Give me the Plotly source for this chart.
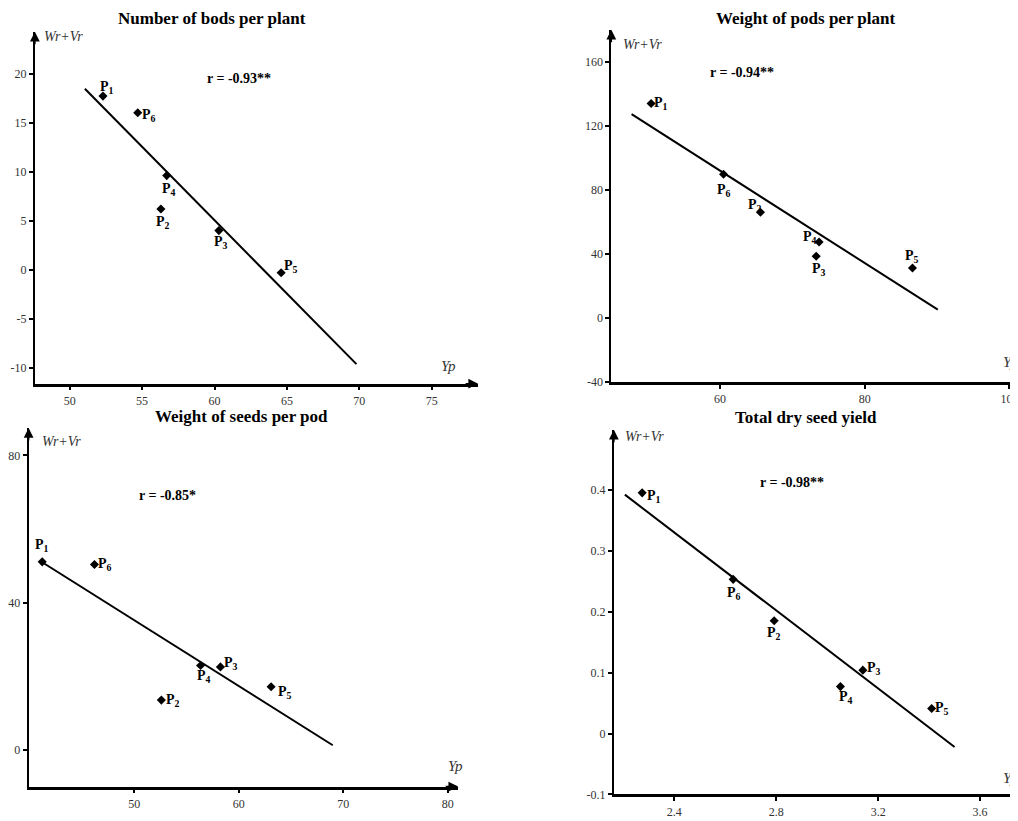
import plotly.graph_objects as go

# The page body has an 8px default margin; the figure is sized and positioned to account for it.
OFF = 8
W0, H0 = 1018, 821
W, H = W0 - OFF, H0 - OFF
labels = ["P1", "P2", "P3", "P4", "P5", "P6"]

# ---- data ----
p1_title = "Number of bods per plant"
p1_r = "r = -0.93**"
p1_x = [52.3, 56.3, 60.3, 56.7, 64.6, 54.7]
p1_y = [17.7, 6.2, 4.0, 9.6, -0.3, 16.0]
p1_line_x = [51.05, 69.8]
p1_line_y = [18.45, -9.6]

p2_title = "Weight of pods per plant"
p2_r = "r = -0.94**"
p2_x = [50.5, 65.6, 73.3, 73.7, 86.6, 60.5]
p2_y = [134.2, 66.1, 38.6, 47.5, 31.2, 89.9]
p2_line_x = [47.8, 90.1]
p2_line_y = [127.5, 5.1]

p3_title = "Weight of seeds per pod"
p3_r = "r = -0.85*"
p3_x = [41.2, 52.6, 58.25, 56.35, 63.1, 46.2]
p3_y = [51.1, 13.6, 22.6, 23.0, 17.2, 50.4]
p3_line_x = [41.2, 69.0]
p3_line_y = [51.0, 1.35]

p4_title = "Total dry seed yield"
p4_r = "r = -0.98**"
p4_x = [2.274, 2.792, 3.14, 3.052, 3.41, 2.631]
p4_y = [0.395, 0.185, 0.104, 0.077, 0.041, 0.253]
p4_line_x = [2.206, 3.5]
p4_line_y = [0.392, -0.022]

p1_xticks = [50, 55, 60, 65, 70, 75]
p1_yticks = [-10, -5, 0, 5, 10, 15, 20]
p2_xticks = [60, 80, 100]
p2_yticks = [-40, 0, 40, 80, 120, 160]
p3_xticks = [50, 60, 70, 80]
p3_yticks = [0, 40, 80]
p4_xticks = [2.4, 2.8, 3.2, 3.6]
p4_yticks = [-0.1, 0, 0.1, 0.2, 0.3, 0.4]

# ---- layout geometry (window pixels) ----
panels = [
    dict(title=p1_title, r=p1_r, x=p1_x, y=p1_y, lx=p1_line_x, ly=p1_line_y,
         xt=p1_xticks, yt=p1_yticks, px=(33, 478), py=(32, 387),
         xr=[47.6, 78.2], yr=[-11.6, 24.25], xarrow=True,
         tpos=(211, 19), rpos=(238, 79), wpos=(62, 37), ypos=(448, 369),
         offs=[(4, 9), (2, -14), (2, -12), (2, -14), (10, 6), (11, -3)]),
    dict(title=p2_title, r=p2_r, x=p2_x, y=p2_y, lx=p2_line_x, ly=p2_line_y,
         xt=p2_xticks, yt=p2_yticks, px=(611.7, 1018), py=(30, 385),
         xr=[45.0, 100.9], yr=[-40, 180.3], xarrow=False,
         tpos=(807, 19), rpos=(743, 73), wpos=(643, 45), ypos=(1012, 365),
         offs=[(10, 0), (-5, 7), (3, -13), (-9, 4), (0, 12), (0, -16)]),
    dict(title=p3_title, r=p3_r, x=p3_x, y=p3_y, lx=p3_line_x, ly=p3_line_y,
         xt=p3_xticks, yt=p3_yticks, px=(26.7, 458), py=(431.7, 793.3),
         xr=[39.9, 81.0], yr=[-9.85, 87.4], xarrow=True,
         tpos=(240, 420), rpos=(166, 500), wpos=(60, 445), ypos=(455, 773),
         offs=[(0, 16), (12, 0), (11, 3), (3, -11), (14, -6), (11, 0)]),
    dict(title=p4_title, r=p4_r, x=p4_x, y=p4_y, lx=p4_line_x, ly=p4_line_y,
         xt=p4_xticks, yt=p4_yticks, px=(614.3, 1018), py=(433.3, 801.3),
         xr=[2.163, 3.741], yr=[-0.1, 0.4987], xarrow=False,
         tpos=(807, 421), rpos=(793, 487), wpos=(645, 440), ypos=(1012, 785),
         offs=[(12, -4), (0, -13), (11, 2), (6, -11), (10, 0), (1, -14)]),
]

SERIF = "Liberation Serif"


def fx(px):
    return (px - OFF) / W


def fy(py):
    return (H0 - py) / H


def fmt(v):
    return "%g" % v


def paper_text(pos, text, size, color):
    return dict(x=fx(pos[0]), y=fy(pos[1]), xref="paper", yref="paper",
                xanchor="center", yanchor="middle", text=text, showarrow=False,
                font=dict(family=SERIF, size=size, color=color))


fig = go.Figure()
annotations = []
layout = {}
for i, p in enumerate(panels):
    n = "" if i == 0 else str(i + 1)
    xa, ya = "x" + n, "y" + n
    fig.add_trace(go.Scatter(x=p["lx"], y=p["ly"], mode="lines",
                             line=dict(color="black", width=2),
                             xaxis=xa, yaxis=ya, showlegend=False, hoverinfo="skip"))
    fig.add_trace(go.Scatter(x=p["x"], y=p["y"], mode="markers",
                             marker=dict(symbol="diamond", size=7, color="black"),
                             xaxis=xa, yaxis=ya, showlegend=False))
    xd = [max(fx(p["px"][0]), 0), min(fx(p["px"][1]), 1.0)]
    yd = [max(fy(p["py"][1]), 0), min(fy(p["py"][0]), 1.0)]
    axcommon = dict(showline=True, linecolor="black", showgrid=False, zeroline=False,
                    ticks="outside", ticklen=4, tickwidth=1.5, tickcolor="black",
                    tickfont=dict(family=SERIF, size=12, color="#333"),
                    ticklabeloverflow="allow", fixedrange=True)
    layout["xaxis" + n] = dict(axcommon, domain=xd, range=p["xr"], anchor=ya,
                               tickvals=p["xt"], ticktext=[fmt(v) for v in p["xt"]],
                               linewidth=2.5)
    layout["yaxis" + n] = dict(axcommon, domain=yd, range=p["yr"], anchor=xa,
                               tickvals=p["yt"], ticktext=[fmt(v) for v in p["yt"]],
                               linewidth=2)
    for lab, xv, yv, (dx, dy) in zip(labels, p["x"], p["y"], p["offs"]):
        annotations.append(dict(x=xv, y=yv, xref=xa, yref=ya,
                                xanchor="center", yanchor="middle",
                                text="<b>P<sub>%s</sub></b>" % lab[1:], showarrow=False,
                                xshift=dx, yshift=dy,
                                font=dict(family=SERIF, size=14, color="black")))
    annotations.append(paper_text(p["tpos"], "<b>%s</b>" % p["title"], 17, "black"))
    annotations.append(paper_text(p["rpos"], "<b>%s</b>" % p["r"], 14, "black"))
    annotations.append(paper_text(p["wpos"], "<i>Wr+Vr</i>", 14, "#333"))
    annotations.append(paper_text(p["ypos"], "<i>Yp</i>", 15, "#333"))
    # axis arrows
    annotations.append(dict(x=p["xr"][0], y=p["yr"][1], xref=xa, yref=ya, text="",
                            showarrow=True, arrowhead=2, arrowsize=1.3, arrowwidth=1.5,
                            arrowcolor="black", ax=0, ay=14))
    if p["xarrow"]:
        annotations.append(dict(x=p["xr"][1], y=p["yr"][0], xref=xa, yref=ya, text="",
                                showarrow=True, arrowhead=2, arrowsize=1.3, arrowwidth=1.5,
                                arrowcolor="black", ax=-14, ay=0))

fig.update_layout(width=W, height=H, margin=dict(l=0, r=0, t=0, b=0),
                  plot_bgcolor="white", paper_bgcolor="white",
                  annotations=annotations, **layout)
fig.write_html("out.html")
